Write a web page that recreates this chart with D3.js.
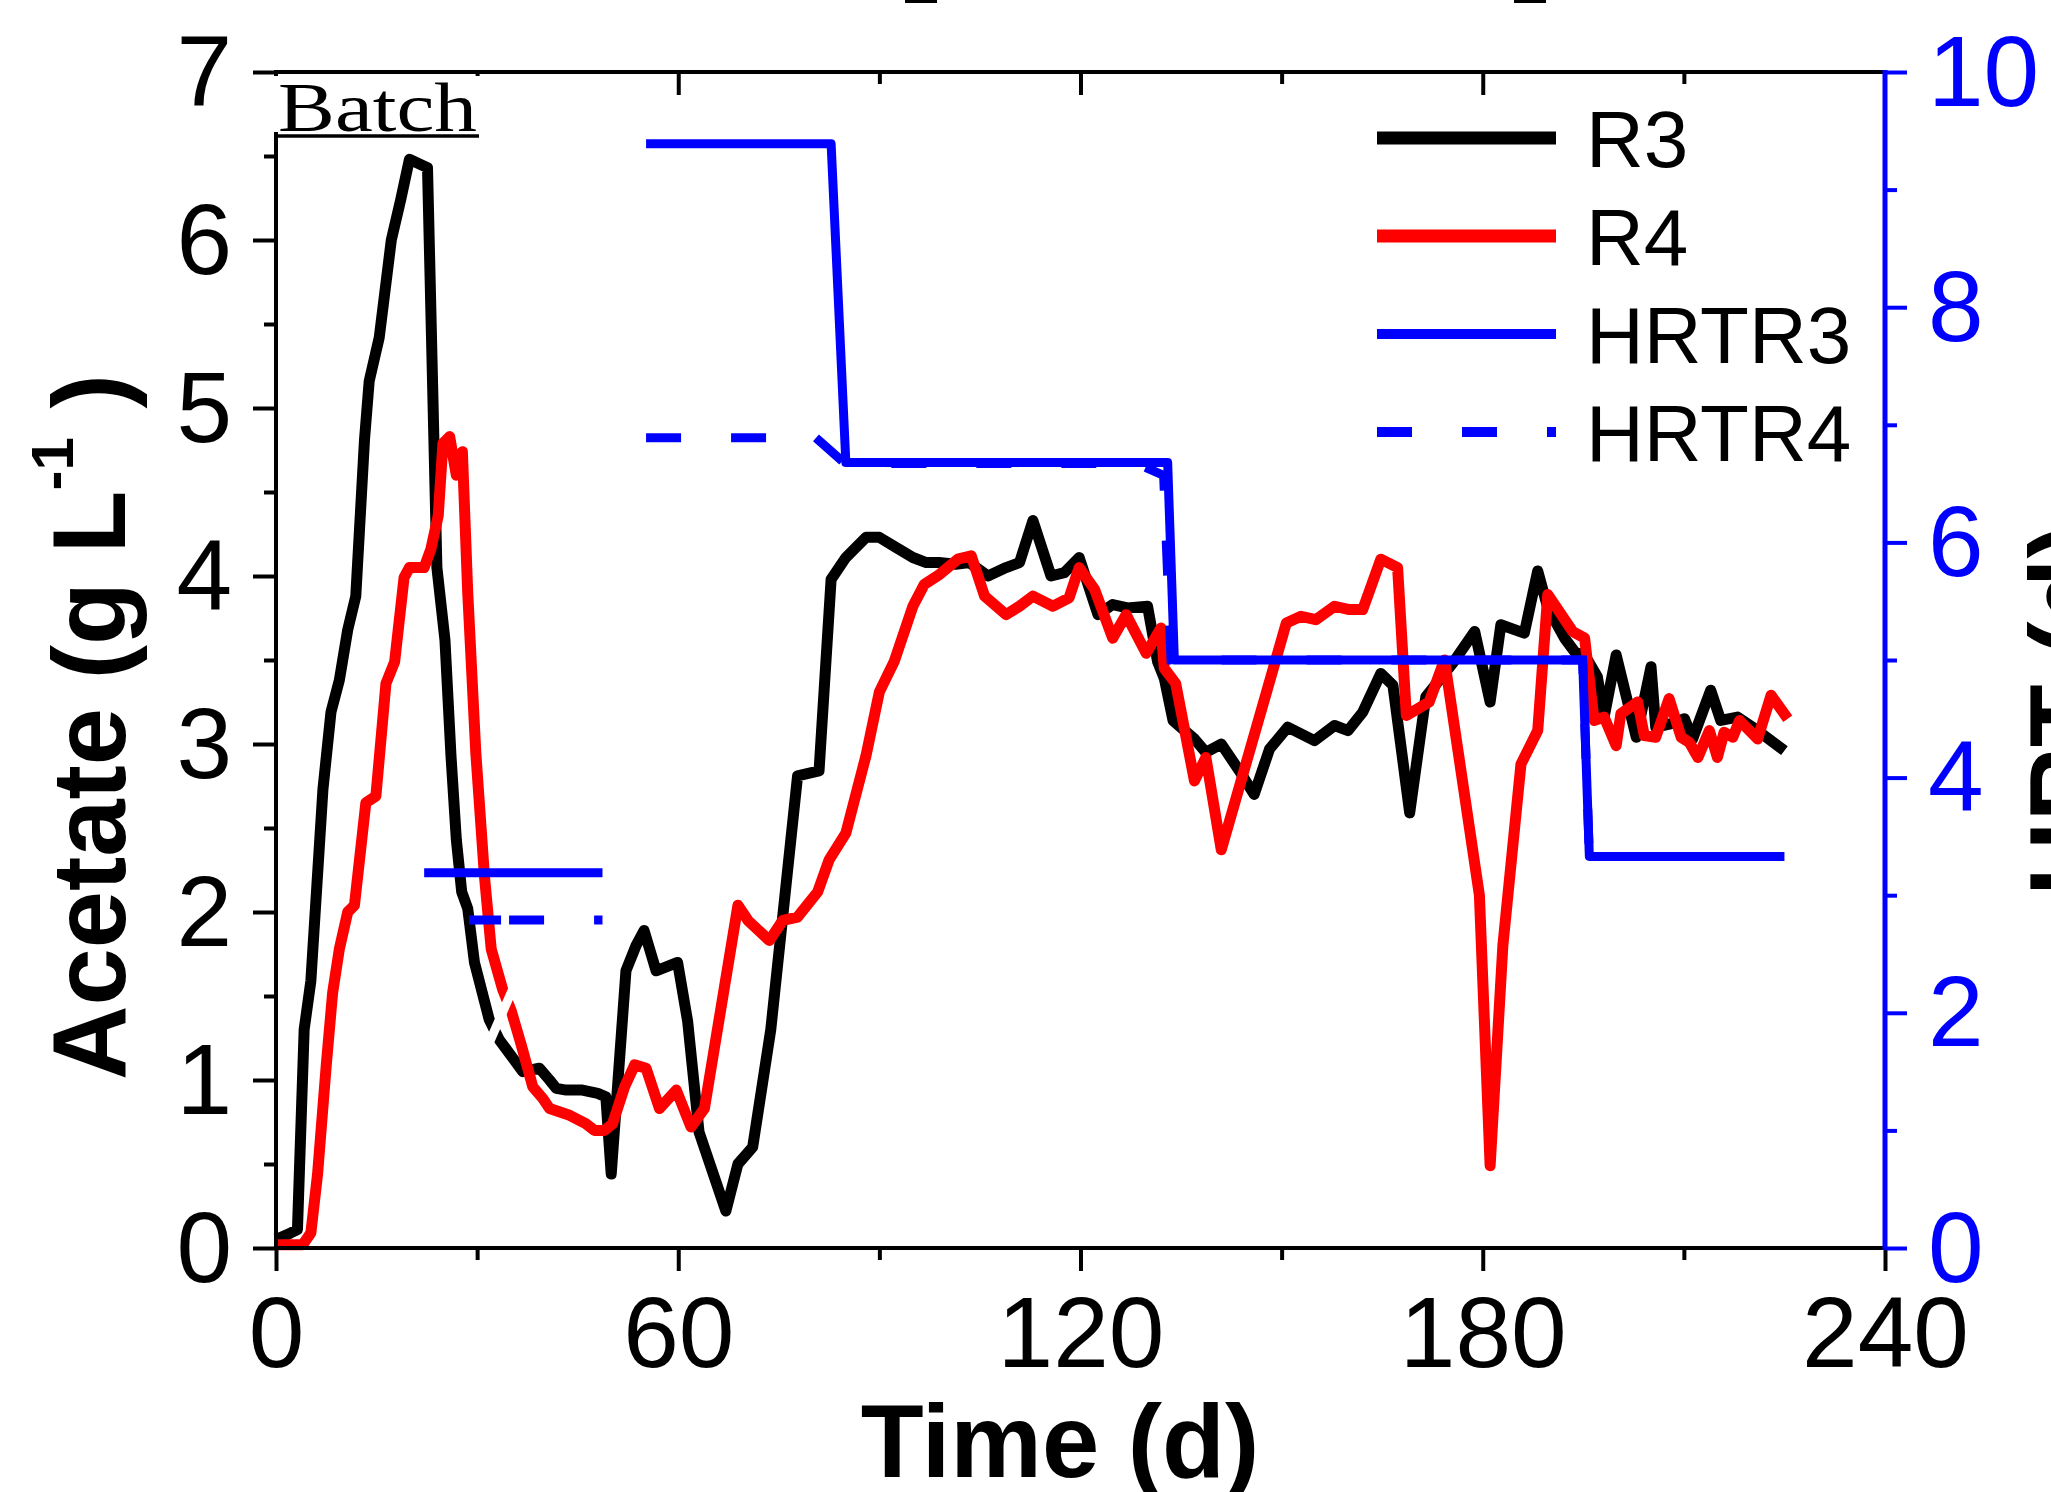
<!DOCTYPE html>
<html>
<head>
<meta charset="utf-8">
<script src="https://cdn.jsdelivr.net/npm/d3@7"></script>
<style>
  body { margin: 0; background: #fff; }
  text { font-family: "Liberation Sans", Arial, sans-serif; }
</style>
</head>
<body>
<div id="my_chart"></div>
<script>
// Acetate, R3 (black)
var r3Day = [0, 2.2, 3.2, 4.2, 5.2, 7.0, 8.2, 9.45, 10.7, 11.9, 13.2, 13.9, 15.4, 17.2, 18.6, 19.9, 22.6,
  24.0, 25.2, 26.1, 26.9, 27.7, 28.6, 29.6, 31.8, 33.3, 36.8, 39.3, 40.8, 41.8, 43.3, 45.7, 48.0, 49.2, 50.0,
  52.2, 53.7, 54.9, 56.7, 59.9, 61.4, 63.1, 67.1, 68.9, 71.1, 73.8, 77.8, 81.0, 82.8, 85.0, 88.0, 90.0,
  92.5, 95.0, 97.0, 98.9, 101.4, 103.4, 106.2, 108.9, 110.9, 112.9, 115.6, 117.6, 119.8, 122.6, 124.8,
  127.0, 130.0, 131.5, 132.5, 133.8, 137.0, 138.7, 141.0, 143.7, 145.9, 148.2, 150.9, 154.9, 157.9, 159.9,
  162.1, 164.8, 166.6, 169.1, 171.5, 175.5, 178.8, 181.1, 182.7, 186.2, 188.2, 189.7, 192.2, 193.7, 195.2,
  197.1, 198.1, 199.9, 202.9, 205.1, 205.8, 208.0, 210.1, 211.3, 214.0, 215.5, 218.0, 221.0, 225.0];
var r3Val = [0.05, 0.09, 0.11, 1.30, 1.59, 2.73, 3.19, 3.38, 3.68, 3.88, 4.81, 5.16, 5.42, 6.00, 6.24, 6.48, 6.43,
  4.05, 3.62, 2.93, 2.43, 2.12, 2.02, 1.70, 1.36, 1.24, 1.05, 1.07, 1.00, 0.95, 0.94, 0.94, 0.92, 0.90, 0.44,
  1.65, 1.80, 1.89, 1.65, 1.70, 1.35, 0.69, 0.22, 0.50, 0.60, 1.30, 2.81, 2.84, 3.98, 4.11, 4.23, 4.23,
  4.17, 4.11, 4.08, 4.08, 4.07, 4.08, 4.00, 4.05, 4.08, 4.33, 4.00, 4.02, 4.11, 3.77, 3.83,
  3.81, 3.82, 3.49, 3.39, 3.14, 3.03, 2.95, 3.00, 2.84, 2.70, 2.97, 3.10, 3.02, 3.11, 3.08,
  3.19, 3.42, 3.35, 2.59, 3.28, 3.48, 3.67, 3.25, 3.71, 3.66, 4.03, 3.81, 3.63, 3.55, 3.53,
  3.40, 3.16, 3.53, 3.04, 3.46, 3.10, 3.12, 3.15, 3.03, 3.32, 3.14, 3.16, 3.08, 2.96];

// Acetate, R4 (red)
var r4Day = [0, 4.0, 5.2, 6.2, 7.5, 8.45, 9.45, 10.7, 11.7, 13.4, 14.9, 16.4, 17.7, 19.1, 19.9, 22.1, 23.1,
  24.2, 24.9, 25.9, 26.9, 27.8, 28.6, 29.8, 31.1, 32.1, 33.8, 35.1, 36.5, 38.3, 39.8, 40.8, 43.8, 46.2, 47.5,
  49.0, 50.2, 52.0, 53.5, 55.2, 57.2, 59.7, 61.9, 63.9, 68.9, 70.4, 73.6, 75.6, 77.8, 80.8, 82.5, 85.0,
  88.0, 90.0, 92.2, 95.0, 96.7, 99.0, 101.7, 103.7, 105.7, 108.9, 110.9, 112.9, 115.9, 118.3, 119.8, 122.1,
  124.8, 126.8, 129.8, 132.0, 132.5, 134.2, 137.0, 138.7, 141.0, 150.7, 152.9, 155.1, 157.9, 160.1, 162.1,
  164.8, 167.3, 168.6, 172.0, 174.3, 179.5, 181.1, 183.0, 185.7, 188.2, 189.7, 193.4, 195.2, 196.6, 198.1,
  199.9, 200.6, 203.1, 204.1, 205.8, 207.8, 209.6, 210.8, 212.1, 213.8, 215.0, 216.0, 217.3, 218.3, 221.0,
  223.0, 225.5];
var r4Val = [0.02, 0.02, 0.09, 0.44, 1.09, 1.52, 1.78, 2.00, 2.04, 2.65, 2.69, 3.36, 3.49, 3.99, 4.05, 4.05, 4.16,
  4.36, 4.79, 4.83, 4.60, 4.74, 3.90, 2.95, 2.21, 1.78, 1.54, 1.41, 1.22, 0.96, 0.89, 0.83, 0.79, 0.74, 0.70,
  0.70, 0.74, 0.96, 1.09, 1.07, 0.83, 0.94, 0.72, 0.83, 2.04, 1.95, 1.83, 1.95, 1.97, 2.12, 2.31, 2.47,
  2.93, 3.31, 3.49, 3.82, 3.95, 4.01, 4.10, 4.12, 3.88, 3.77, 3.82, 3.88, 3.82, 3.87, 4.05, 3.92,
  3.63, 3.77, 3.54, 3.69, 3.45, 3.36, 2.78, 2.92, 2.37, 3.72, 3.76, 3.74, 3.82, 3.80, 3.80,
  4.10, 4.05, 3.17, 3.25, 3.50, 2.10, 0.49, 1.80, 2.88, 3.08, 3.89, 3.67, 3.63, 3.14, 3.16,
  2.99, 3.18, 3.25, 3.05, 3.04, 3.27, 3.04, 3.01, 2.92, 3.08, 2.92, 3.07, 3.04, 3.14, 3.03,
  3.29, 3.15];

// HRT (d), right axis, two pieces each
var hrtR3Day = [[22.1, 48.7], [55.2, 82.8, 85.0, 133.0, 134.0, 194.9, 195.9, 225.0]];
var hrtR3Val = [[3.19, 3.19], [9.39, 9.39, 6.68, 6.68, 5.0, 5.0, 3.33, 3.33]];
var hrtR4Day = [[28.8, 48.7], [55.2, 80.5, 84.9, 128.4, 132.4, 133.5, 194.9, 195.9, 225.0]];
var hrtR4Val = [[2.79, 2.79], [6.89, 6.89, 6.67, 6.67, 6.57, 5.0, 5.0, 3.33, 3.33]];

// white stroke that cuts R3 and R4 near day 33
var gapDay = [31.9, 35.4];
var gapVal = [1.23, 1.55];

var xTicks = [0, 60, 120, 180, 240];
var yTicks = [0, 1, 2, 3, 4, 5, 6, 7];
var y2Ticks = [0, 2, 4, 6, 8, 10];
var legendNames = ["R3", "R4", "HRTR3", "HRTR4"];

// size of the picture
var width = 2051, height = 1492;

var svg = d3.select("#my_chart")
  .append("svg")
  .attr("width", width)
  .attr("height", height);

// scales (left and right share the same pixel range)
var x = d3.scaleLinear().domain([0, 240]).range([276, 1885]);
var y = d3.scaleLinear().domain([0, 7]).range([1248, 72]);
var y2 = d3.scaleLinear().domain([0, 10]).range([1248, 72]);

function pts(days, vals) { return days.map(function(d, i){ return [d, vals[i]] }) }

var line = d3.line().x(function(d){ return x(d[0]) }).y(function(d){ return y(d[1]) });
var line2 = d3.line().x(function(d){ return x(d[0]) }).y(function(d){ return y2(d[1]) });

// data lines
svg.append("path").attr("d", line(pts(r3Day, r3Val)))
  .attr("fill", "none").attr("stroke", "#000").attr("stroke-width", 11)
  .attr("stroke-linejoin", "round");
svg.append("path").attr("d", line(pts(r4Day, r4Val)))
  .attr("fill", "none").attr("stroke", "#ff0000").attr("stroke-width", 11)
  .attr("stroke-linejoin", "round");
svg.append("path").attr("d", line(pts(gapDay, gapVal)))
  .attr("fill", "none").attr("stroke", "#fff").attr("stroke-width", 9);

var dashes = ["32,8,35,50,35,50", "35,50"];
hrtR4Day.forEach(function(days, i){
  svg.append("path").attr("d", line2(pts(days, hrtR4Val[i])))
    .attr("fill", "none").attr("stroke", "#0000ff").attr("stroke-width", 9)
    .attr("stroke-dasharray", dashes[i]);
});
hrtR3Day.forEach(function(days, i){
  svg.append("path").attr("d", line2(pts(days, hrtR3Val[i])))
    .attr("fill", "none").attr("stroke", "#0000ff").attr("stroke-width", 9)
    .attr("stroke-linejoin", "round");
});

// axes
function styleAxis(g, color, size) {
  g.select(".domain").remove();
  g.selectAll(".tick line").attr("stroke", color).attr("stroke-width", 4);
  g.selectAll(".tick text").attr("fill", color).style("font-size", size + "px")
    .style("font-family", "'Liberation Sans', Arial, sans-serif");
}

var fmt = d3.format("d");

var gx = svg.append("g").attr("transform", "translate(0,1248)")
  .call(d3.axisBottom(x).tickValues(xTicks).tickFormat(fmt).tickSize(23).tickSizeOuter(0).tickPadding(0));
styleAxis(gx, "#000", 100);
gx.selectAll(".tick text").attr("y", 119).attr("dy", 0);
svg.append("g").attr("transform", "translate(0,1248)")
  .call(d3.axisBottom(x).tickValues([30, 90, 150, 210]).tickSize(12).tickFormat(""))
  .call(styleAxis, "#000", 10);

// top axis: ticks point inward
svg.append("g").attr("transform", "translate(0,72)")
  .call(d3.axisBottom(x).tickValues([60, 120, 180]).tickSize(23).tickFormat(""))
  .call(styleAxis, "#000", 10);
svg.append("g").attr("transform", "translate(0,72)")
  .call(d3.axisBottom(x).tickValues([30, 90, 150, 210]).tickSize(12).tickFormat(""))
  .call(styleAxis, "#000", 10);

var gy = svg.append("g").attr("transform", "translate(276,0)")
  .call(d3.axisLeft(y).tickValues(yTicks).tickFormat(fmt).tickSize(23).tickPadding(21));
styleAxis(gy, "#000", 100);
gy.selectAll(".tick text").attr("dy", "0.33em");
svg.append("g").attr("transform", "translate(276,0)")
  .call(d3.axisLeft(y).tickValues(d3.range(0.5, 7, 1)).tickSize(12).tickFormat(""))
  .call(styleAxis, "#000", 10);

var gy2 = svg.append("g").attr("transform", "translate(1885,0)")
  .call(d3.axisRight(y2).tickValues(y2Ticks).tickFormat(fmt).tickSize(22).tickPadding(21));
styleAxis(gy2, "#0000ff", 100);
gy2.selectAll(".tick text").attr("dy", "0.33em");
svg.append("g").attr("transform", "translate(1885,0)")
  .call(d3.axisRight(y2).tickValues([1, 3, 5, 7, 9]).tickSize(12).tickFormat(""))
  .call(styleAxis, "#0000ff", 10);

// frame lines
svg.append("line").attr("x1", 274).attr("x2", 1885).attr("y1", 1248).attr("y2", 1248)
  .attr("stroke", "#000").attr("stroke-width", 4);
svg.append("line").attr("x1", 274).attr("x2", 1885).attr("y1", 72).attr("y2", 72)
  .attr("stroke", "#000").attr("stroke-width", 4);
svg.append("line").attr("x1", 276).attr("x2", 276).attr("y1", 72).attr("y2", 1250)
  .attr("stroke", "#000").attr("stroke-width", 4);
svg.append("line").attr("x1", 1885).attr("x2", 1885).attr("y1", 70).attr("y2", 1250)
  .attr("stroke", "#0000ff").attr("stroke-width", 5);

// Batch label on a white box
svg.append("rect").attr("x", 272).attr("y", 76).attr("width", 210).attr("height", 56).attr("fill", "#fff");
svg.append("text").attr("x", 278).attr("y", 131)
  .style("font-family", "'Liberation Serif', 'Times New Roman', serif").style("font-size", "70px")
  .attr("textLength", 199).attr("lengthAdjust", "spacingAndGlyphs")
  .text("Batch");
svg.append("line").attr("x1", 278).attr("x2", 479).attr("y1", 136).attr("y2", 136)
  .attr("stroke", "#000").attr("stroke-width", 3.5);

// bits of a cut-off title at the very top
[[905, 937], [1514, 1546]].forEach(function(s){
  svg.append("rect").attr("x", s[0]).attr("y", 0).attr("width", s[1] - s[0]).attr("height", 3).attr("fill", "#000");
});

// axis titles
var left = svg.append("text").attr("transform", "translate(125,1080) rotate(-90)")
  .style("font-size", "103px").style("font-weight", "bold");
left.append("tspan").text("Acetate (g L");
left.append("tspan").attr("dy", -52).style("font-size", "60px").text("-1");
left.append("tspan").attr("dy", 52).text(" )");

svg.append("text").attr("transform", "translate(2102,896) rotate(-90)")
  .style("font-size", "103px").style("font-weight", "bold").text("HRT (d)");

svg.append("text").attr("x", 1060).attr("y", 1477).attr("text-anchor", "middle")
  .style("font-size", "103px").style("font-weight", "bold").text("Time (d)");

// legend
var legColors = ["#000", "#ff0000", "#0000ff", "#0000ff"];
var legWidths = [13, 13, 10, 10];
var legend = svg.append("g");
legendNames.forEach(function(name, i){
  var ly = 138 + i * 98;
  legend.append("line").attr("x1", 1377).attr("x2", 1556).attr("y1", ly).attr("y2", ly)
    .attr("stroke", legColors[i]).attr("stroke-width", legWidths[i])
    .attr("stroke-dasharray", i == 3 ? "35,50" : null);
  legend.append("text").attr("x", 1586).attr("y", ly + 29)
    .style("font-size", "80px").attr("fill", "#000").text(name);
});
</script>
</body>
</html>
